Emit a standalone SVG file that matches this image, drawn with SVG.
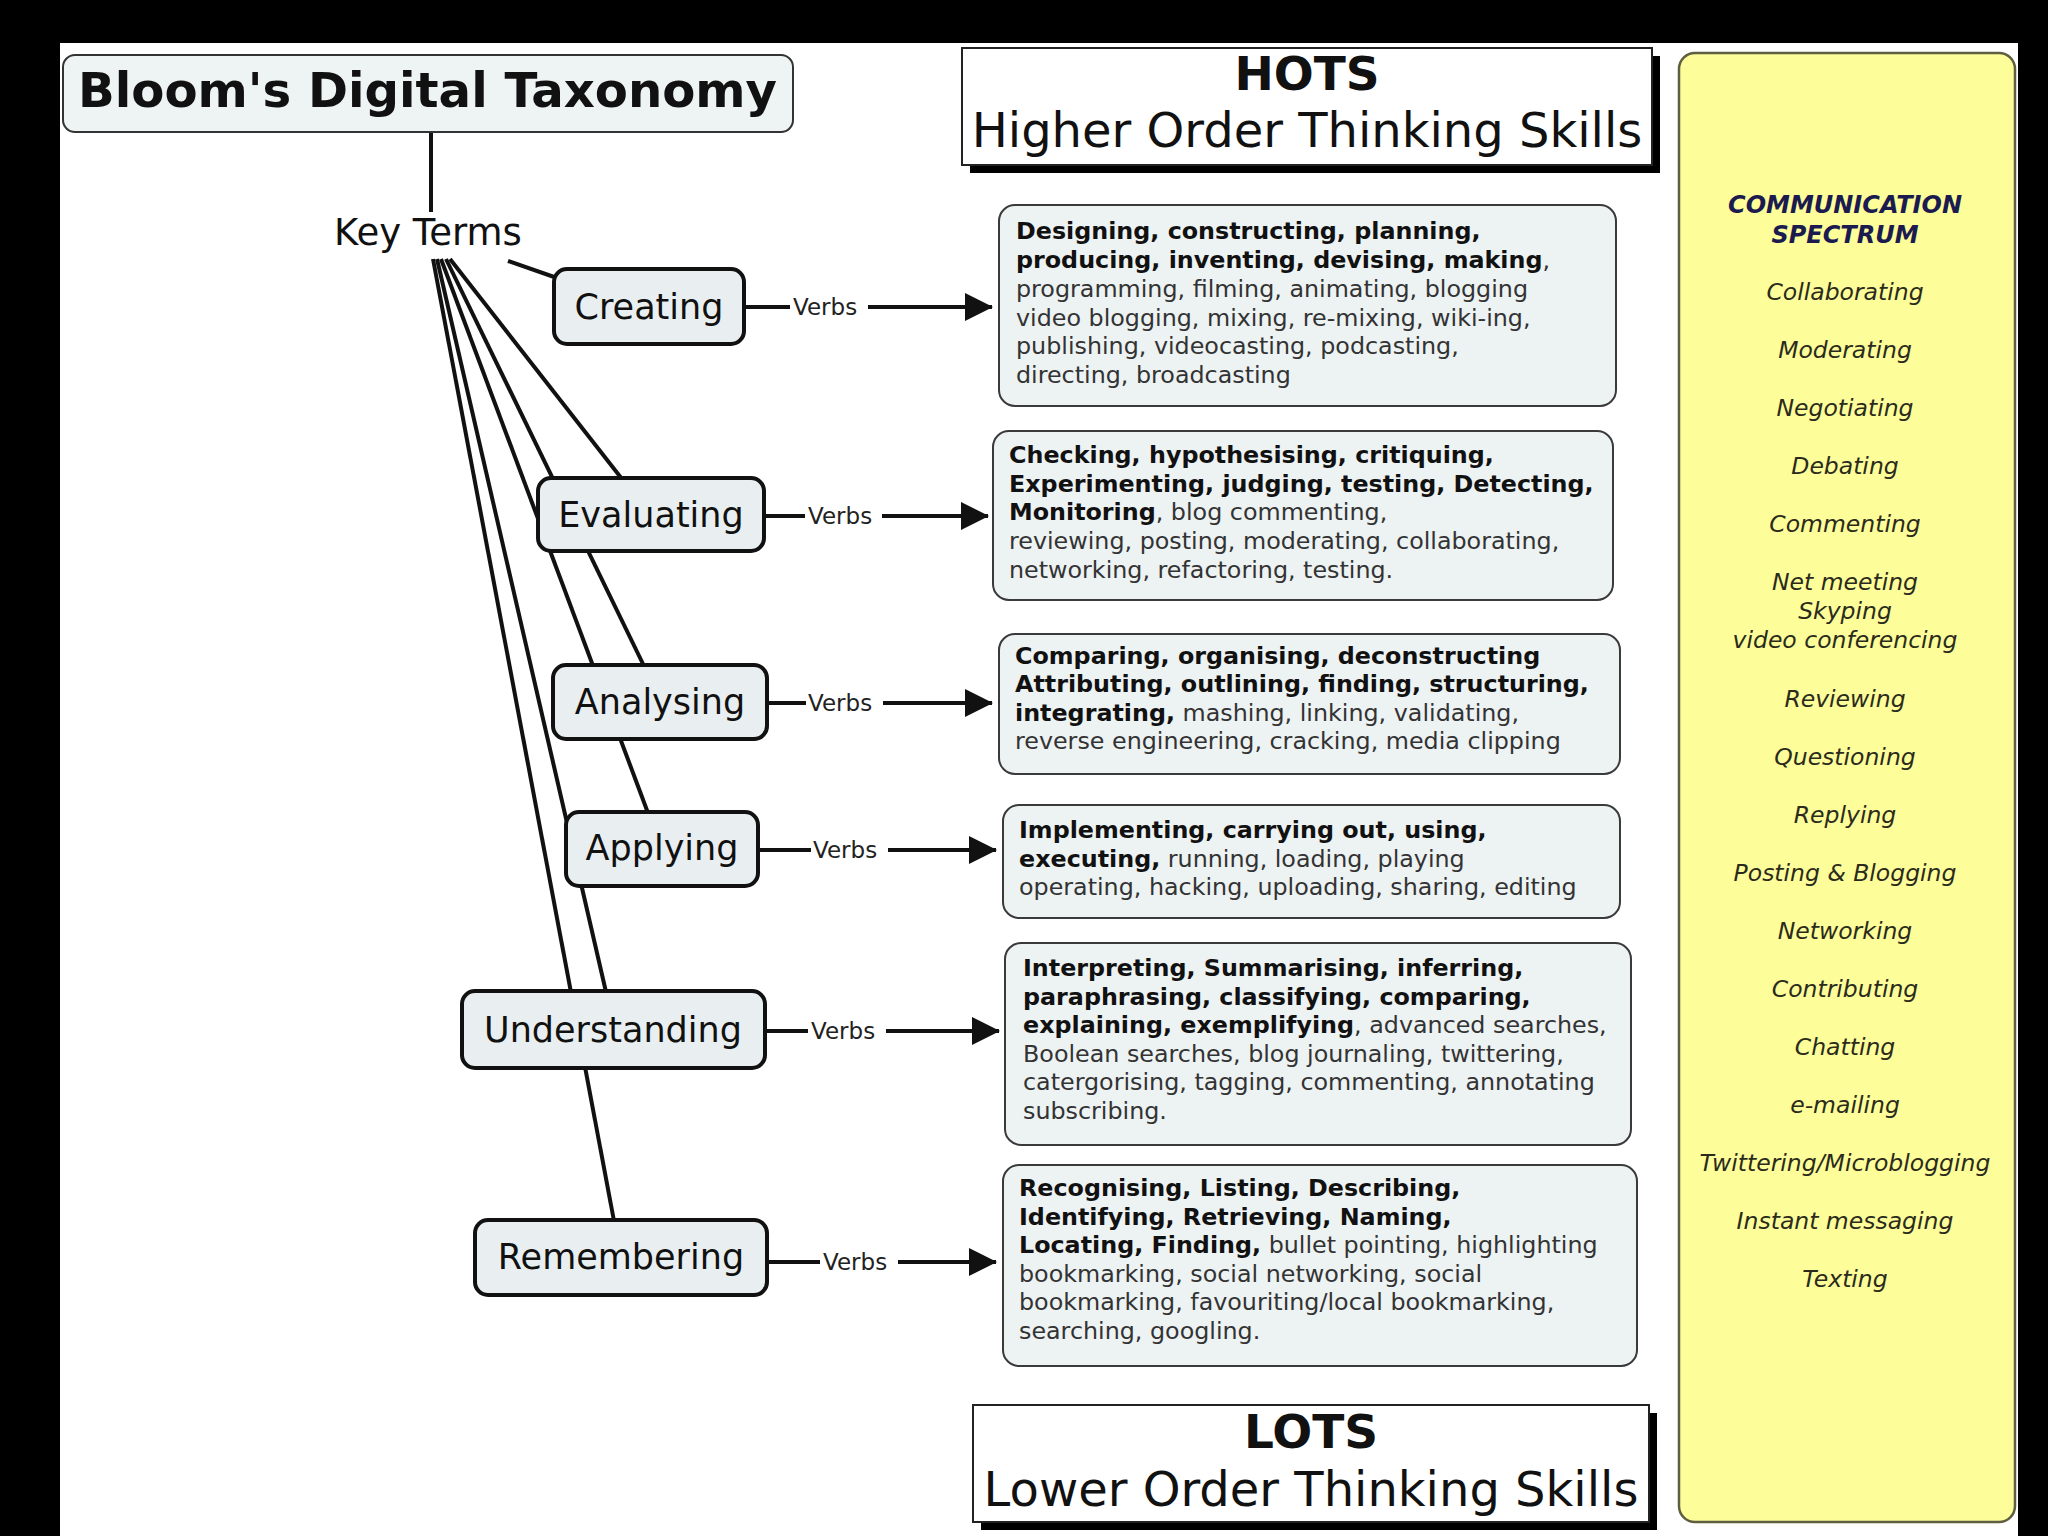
<svg xmlns="http://www.w3.org/2000/svg" width="2048" height="1536" viewBox="0 0 2048 1536">
<defs>
<marker id="arr" markerUnits="userSpaceOnUse" markerWidth="28" markerHeight="28" viewBox="0 0 28 28" refX="27" refY="14" orient="auto">
<path d="M0,0 L28,14 L0,28 z" fill="#111"/>
</marker>
</defs>
<style>
text{font-family:"DejaVu Sans",Verdana,sans-serif}
.node rect{fill:#e9eff0;stroke:#111;stroke-width:4}
.ntxt{font-size:35px;fill:#111;text-anchor:middle}
.vbox rect{fill:#edf2f3;stroke:#3a3a3a;stroke-width:2}
.vt{font-size:23.8px;fill:#333}
.b{font-weight:bold;fill:#111}
.conn line{stroke:#111;stroke-width:4;fill:none}
.verbs{font-size:23px;fill:#222}
.hdr rect.sh{fill:#000}
.hdr rect.fr{fill:#fff;stroke:#222;stroke-width:2}
.h1{font-size:47px;font-weight:bold;fill:#111;text-anchor:middle}
.h2{font-size:48px;fill:#111;text-anchor:middle}
.ci{font-size:23.5px;font-style:italic;fill:#2b2b1c;text-anchor:middle}
.ch{font-size:24px;font-style:italic;font-weight:bold;fill:#1b1b4f;text-anchor:middle}
</style>
<rect x="0" y="0" width="2048" height="1536" fill="#000"/>
<rect x="60" y="43" width="1958" height="1493" fill="#fff"/>

<g id="connectors" class="conn">
<line x1="431" y1="133" x2="431" y2="212"/>
<line x1="508" y1="261" x2="557" y2="278"/>
<line x1="450" y1="259" x2="622" y2="479"/>
<line x1="446" y1="259" x2="644" y2="666"/>
<line x1="441" y1="259" x2="648" y2="813"/>
<line x1="437" y1="259" x2="606" y2="992"/>
<line x1="433" y1="259" x2="614" y2="1221"/>
<line x1="744" y1="307" x2="790" y2="307"/>
<line x1="868" y1="307" x2="992" y2="307" marker-end="url(#arr)"/>
<line x1="764" y1="516" x2="805" y2="516"/>
<line x1="882" y1="516" x2="988" y2="516" marker-end="url(#arr)"/>
<line x1="767" y1="703" x2="806" y2="703"/>
<line x1="883" y1="703" x2="992" y2="703" marker-end="url(#arr)"/>
<line x1="758" y1="850" x2="811" y2="850"/>
<line x1="888" y1="850" x2="996" y2="850" marker-end="url(#arr)"/>
<line x1="765" y1="1031" x2="808" y2="1031"/>
<line x1="886" y1="1031" x2="999" y2="1031" marker-end="url(#arr)"/>
<line x1="767" y1="1262" x2="820" y2="1262"/>
<line x1="898" y1="1262" x2="996" y2="1262" marker-end="url(#arr)"/>
<text class="verbs" x="793" y="315">Verbs</text>
<text class="verbs" x="808" y="524">Verbs</text>
<text class="verbs" x="808" y="711">Verbs</text>
<text class="verbs" x="813" y="858">Verbs</text>
<text class="verbs" x="811" y="1039">Verbs</text>
<text class="verbs" x="823" y="1270">Verbs</text>
</g>

<g id="title">
<rect x="63" y="55" width="730" height="77" rx="12" fill="#eef3f3" stroke="#333" stroke-width="2"/>
<text x="78" y="107" font-size="48" font-weight="bold" fill="#111" textLength="699" lengthAdjust="spacingAndGlyphs">Bloom's Digital Taxonomy</text>
</g>

<g id="keyterms">
<text x="334" y="245" font-size="37" fill="#111">Key Terms</text>
</g>

<g id="hots" class="hdr">
<rect class="sh" x="970" y="56" width="690" height="117"/>
<rect class="fr" x="962" y="48" width="690" height="117"/>
<text class="h1" x="1307" y="90">HOTS</text>
<text class="h2" x="1307" y="147">Higher Order Thinking Skills</text>
</g>

<g id="lots" class="hdr">
<rect class="sh" x="981" y="1413" width="676" height="117"/>
<rect class="fr" x="973" y="1405" width="676" height="117"/>
<text class="h1" x="1311" y="1448">LOTS</text>
<text class="h2" x="1311" y="1506">Lower Order Thinking Skills</text>
</g>

<g id="creating" class="node">
<rect x="554" y="269" width="190" height="75" rx="13"/>
<text class="ntxt" x="649" y="319">Creating</text>
</g>
<g id="evaluating" class="node">
<rect x="538" y="478" width="226" height="73" rx="13"/>
<text class="ntxt" x="651" y="527">Evaluating</text>
</g>
<g id="analysing" class="node">
<rect x="553" y="665" width="214" height="74" rx="13"/>
<text class="ntxt" x="660" y="714">Analysing</text>
</g>
<g id="applying" class="node">
<rect x="566" y="812" width="192" height="74" rx="13"/>
<text class="ntxt" x="662" y="860">Applying</text>
</g>
<g id="understanding" class="node">
<rect x="462" y="991" width="303" height="77" rx="13"/>
<text class="ntxt" x="613" y="1042">Understanding</text>
</g>
<g id="remembering" class="node">
<rect x="475" y="1220" width="292" height="75" rx="13"/>
<text class="ntxt" x="621" y="1269">Remembering</text>
</g>

<g id="verbs-creating" class="vbox">
<rect x="999" y="205" width="617" height="201" rx="16"/>
<text class="vt" x="1016" y="239"><tspan class="b">Designing, constructing, planning,</tspan></text>
<text class="vt" x="1016" y="268"><tspan class="b">producing, inventing, devising, making</tspan>,</text>
<text class="vt" x="1016" y="297">programming, filming, animating, blogging</text>
<text class="vt" x="1016" y="326">video blogging, mixing, re-mixing, wiki-ing,</text>
<text class="vt" x="1016" y="354">publishing, videocasting, podcasting,</text>
<text class="vt" x="1016" y="383">directing, broadcasting</text>
</g>

<g id="verbs-evaluating" class="vbox">
<rect x="993" y="431" width="620" height="169" rx="16"/>
<text class="vt" x="1009" y="463"><tspan class="b">Checking, hypothesising, critiquing,</tspan></text>
<text class="vt" x="1009" y="492"><tspan class="b">Experimenting, judging, testing, Detecting,</tspan></text>
<text class="vt" x="1009" y="520"><tspan class="b">Monitoring</tspan>, blog commenting,</text>
<text class="vt" x="1009" y="549">reviewing, posting, moderating, collaborating,</text>
<text class="vt" x="1009" y="578">networking, refactoring, testing.</text>
</g>

<g id="verbs-analysing" class="vbox">
<rect x="999" y="634" width="621" height="140" rx="16"/>
<text class="vt" x="1015" y="664"><tspan class="b">Comparing, organising, deconstructing</tspan></text>
<text class="vt" x="1015" y="692"><tspan class="b">Attributing, outlining, finding, structuring,</tspan></text>
<text class="vt" x="1015" y="721"><tspan class="b">integrating,</tspan> mashing, linking, validating,</text>
<text class="vt" x="1015" y="749">reverse engineering, cracking, media clipping</text>
</g>

<g id="verbs-applying" class="vbox">
<rect x="1003" y="805" width="617" height="113" rx="16"/>
<text class="vt" x="1019" y="838"><tspan class="b">Implementing, carrying out, using,</tspan></text>
<text class="vt" x="1019" y="867"><tspan class="b">executing,</tspan> running, loading, playing</text>
<text class="vt" x="1019" y="895">operating, hacking, uploading, sharing, editing</text>
</g>

<g id="verbs-understanding" class="vbox">
<rect x="1005" y="943" width="626" height="202" rx="16"/>
<text class="vt" x="1023" y="976"><tspan class="b">Interpreting, Summarising, inferring,</tspan></text>
<text class="vt" x="1023" y="1005"><tspan class="b">paraphrasing, classifying, comparing,</tspan></text>
<text class="vt" x="1023" y="1033"><tspan class="b">explaining, exemplifying</tspan>, advanced searches,</text>
<text class="vt" x="1023" y="1062">Boolean searches, blog journaling, twittering,</text>
<text class="vt" x="1023" y="1090">catergorising, tagging, commenting, annotating</text>
<text class="vt" x="1023" y="1119">subscribing.</text>
</g>

<g id="verbs-remembering" class="vbox">
<rect x="1003" y="1165" width="634" height="201" rx="16"/>
<text class="vt" x="1019" y="1196"><tspan class="b">Recognising, Listing, Describing,</tspan></text>
<text class="vt" x="1019" y="1225"><tspan class="b">Identifying, Retrieving, Naming,</tspan></text>
<text class="vt" x="1019" y="1253"><tspan class="b">Locating, Finding,</tspan> bullet pointing, highlighting</text>
<text class="vt" x="1019" y="1282">bookmarking, social networking, social</text>
<text class="vt" x="1019" y="1310">bookmarking, favouriting/local bookmarking,</text>
<text class="vt" x="1019" y="1339">searching, googling.</text>
</g>

<g id="communication-spectrum">
<rect x="1679" y="53" width="336" height="1469" rx="16" fill="#fdfd99" stroke="#5e5e40" stroke-width="2.5"/>
<text class="ch" x="1845" y="213">COMMUNICATION</text>
<text class="ch" x="1845" y="243">SPECTRUM</text>
<text class="ci" x="1845" y="300">Collaborating</text>
<text class="ci" x="1845" y="358">Moderating</text>
<text class="ci" x="1845" y="416">Negotiating</text>
<text class="ci" x="1845" y="474">Debating</text>
<text class="ci" x="1845" y="532">Commenting</text>
<text class="ci" x="1845" y="590">Net meeting</text>
<text class="ci" x="1845" y="619">Skyping</text>
<text class="ci" x="1845" y="648">video conferencing</text>
<text class="ci" x="1845" y="707">Reviewing</text>
<text class="ci" x="1845" y="765">Questioning</text>
<text class="ci" x="1845" y="823">Replying</text>
<text class="ci" x="1845" y="881">Posting &amp; Blogging</text>
<text class="ci" x="1845" y="939">Networking</text>
<text class="ci" x="1845" y="997">Contributing</text>
<text class="ci" x="1845" y="1055">Chatting</text>
<text class="ci" x="1845" y="1113">e-mailing</text>
<text class="ci" x="1845" y="1171">Twittering/Microblogging</text>
<text class="ci" x="1845" y="1229">Instant messaging</text>
<text class="ci" x="1845" y="1287">Texting</text>
</g>
</svg>
